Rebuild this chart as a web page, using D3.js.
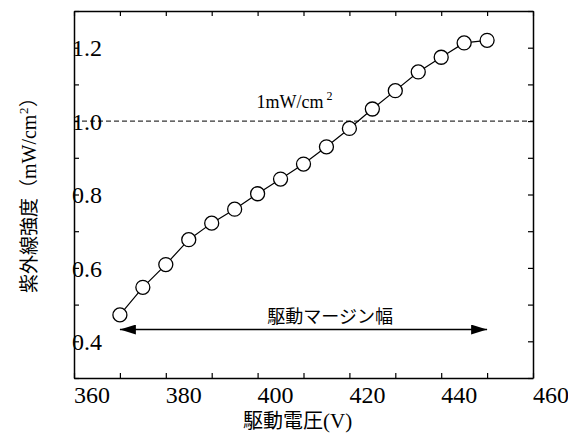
<!DOCTYPE html>
<html>
<head>
<meta charset="utf-8">
<script src="https://cdn.jsdelivr.net/npm/d3@7"></script>
<style>
  body { margin: 0; background: #fff; }
  svg { display: block; }
</style>
</head>
<body>
<div id="chart"></div>
<script>
// measured values (driving voltage vs UV intensity)
const voltage = [370, 375, 380, 385, 390, 395, 400, 405, 410, 415, 420, 425, 430, 435, 440, 445, 450];
const intensity = [0.472, 0.547, 0.609, 0.677, 0.722, 0.760, 0.802, 0.842, 0.883, 0.930,
                   0.980, 1.033, 1.083, 1.134, 1.174, 1.213, 1.220];

const xTicks = [360, 370, 380, 390, 400, 410, 420, 430, 440, 450, 460];
const xTickLabels = [360, 380, 400, 420, 440, 460];
const yTicks = [0.3, 0.4, 0.5, 0.6, 0.7, 0.8, 0.9, 1.0, 1.1, 1.2, 1.3];
const yTickLabels = [0.4, 0.6, 0.8, 1.0, 1.2];

// annotations
const threshold = 1.0;
const marginRange = [370, 450];
const marginLevel = 0.432;

const SERIF = '"Liberation Serif", "Times New Roman", serif';
const CJK = '"Noto Sans CJK JP", sans-serif';

const W = 568, H = 435;
const margin = {top: 11, right: 35, bottom: 57, left: 74};
const width = W - margin.left - margin.right;
const height = H - margin.top - margin.bottom;

const svg = d3.select('#chart').append('svg')
    .attr('width', W)
    .attr('height', H);

const g = svg.append('g')
    .attr('transform', `translate(${margin.left},${margin.top})`);

const x = d3.scaleLinear().domain([360, 460]).range([0, width]);
const y = d3.scaleLinear().domain([0.3, 1.3]).range([height, 0]);

const TICK = 5;

// frame with inward ticks on all four sides
g.append('g').attr('transform', `translate(0,${height})`)
    .call(d3.axisBottom(x).tickValues(xTicks).tickSizeInner(-TICK).tickSizeOuter(0).tickFormat(''));
g.append('g')
    .call(d3.axisTop(x).tickValues(xTicks).tickSizeInner(-TICK).tickSizeOuter(0).tickFormat(''));
g.append('g')
    .call(d3.axisLeft(y).tickValues(yTicks).tickSizeInner(-TICK).tickSizeOuter(0).tickFormat(''));
g.append('g').attr('transform', `translate(${width},0)`)
    .call(d3.axisRight(y).tickValues(yTicks).tickSizeInner(-TICK).tickSizeOuter(0).tickFormat(''));

g.selectAll('.domain').attr('stroke', '#000').attr('stroke-width', 1.5);
g.selectAll('.tick line').attr('stroke', '#000').attr('stroke-width', 1.2);

// tick labels: x labels start at the tick, y labels sit over the axis line
g.append('g').selectAll('text')
    .data(xTickLabels)
    .join('text')
    .attr('x', d => x(d))
    .attr('y', height + 25)
    .style('font-family', SERIF)
    .style('font-size', '24px')
    .attr('fill', '#000')
    .text(d => d);

g.append('g').selectAll('text')
    .data(yTickLabels)
    .join('text')
    .attr('x', -2)
    .attr('y', d => y(d))
    .attr('dy', '0.36em')
    .style('font-family', SERIF)
    .style('font-size', '24px')
    .attr('fill', '#000')
    .text(d => d3.format('.1f')(d));

// 1 mW/cm2 threshold
g.append('line')
    .attr('x1', 0).attr('x2', width)
    .attr('y1', y(threshold)).attr('y2', y(threshold))
    .attr('stroke', '#000')
    .attr('stroke-width', 1)
    .attr('stroke-dasharray', '5,3');

g.append('text')
    .attr('x', x(400) - 1)
    .attr('y', y(threshold) - 13)
    .style('font-family', SERIF)
    .style('font-size', '18px')
    .text('1mW/cm');
g.append('text')
    .attr('x', x(400) + 69)
    .attr('y', y(threshold) - 21)
    .style('font-family', SERIF)
    .style('font-size', '12px')
    .text('2');

// data line + markers
const line = d3.line().x((d, i) => x(voltage[i])).y(d => y(d));
g.append('path')
    .datum(intensity)
    .attr('fill', 'none')
    .attr('stroke', '#000')
    .attr('stroke-width', 1.2)
    .attr('d', line);

g.selectAll('circle.pt')
    .data(intensity)
    .join('circle')
    .attr('class', 'pt')
    .attr('cx', (d, i) => x(voltage[i]))
    .attr('cy', d => y(d))
    .attr('r', 7)
    .attr('fill', '#fff')
    .attr('stroke', '#000')
    .attr('stroke-width', 1.3);

// driving margin arrow
const defs = svg.append('defs');
defs.append('marker')
    .attr('id', 'head')
    .attr('viewBox', '0 0 16 10')
    .attr('refX', 16).attr('refY', 5)
    .attr('markerWidth', 16).attr('markerHeight', 10)
    .attr('markerUnits', 'userSpaceOnUse')
    .attr('orient', 'auto-start-reverse')
    .append('path')
    .attr('d', 'M0,0 L16,5 L0,10 Z')
    .attr('fill', '#000');

const ay = y(marginLevel);
g.append('line')
    .attr('x1', x(marginRange[0])).attr('x2', x(marginRange[1]))
    .attr('y1', ay).attr('y2', ay)
    .attr('stroke', '#000')
    .attr('stroke-width', 1.5)
    .attr('marker-start', 'url(#head)')
    .attr('marker-end', 'url(#head)');

g.append('text')
    .attr('x', x(415.8))
    .attr('y', ay - 7)
    .attr('text-anchor', 'middle')
    .style('font-family', CJK)
    .style('font-size', '18px')
    .text('駆動マージン幅');

// x title: CJK part and latin part as separate texts
svg.append('text')
    .attr('x', 297 - 14)
    .attr('y', 428)
    .attr('text-anchor', 'middle')
    .style('font-family', CJK)
    .style('font-size', '20px')
    .text('駆動電圧');
svg.append('text')
    .attr('x', 323)
    .attr('y', 428)
    .style('font-family', SERIF)
    .style('font-size', '21px')
    .text('(V)');

// y title, rotated, built from pieces
const yt = svg.append('g').attr('transform', 'translate(36,293) rotate(-90)');
yt.append('text').attr('x', 0).attr('y', 0)
    .style('font-family', CJK).style('font-size', '19px')
    .text('紫外線強度（');
yt.append('text').attr('x', 114).attr('y', 0)
    .style('font-family', SERIF).style('font-size', '20px')
    .text('mW/cm');
yt.append('text').attr('x', 179).attr('y', -8)
    .style('font-family', SERIF).style('font-size', '13px')
    .text('2');
yt.append('text').attr('x', 186).attr('y', 0)
    .style('font-family', CJK).style('font-size', '19px')
    .text('）');
</script>
</body>
</html>
